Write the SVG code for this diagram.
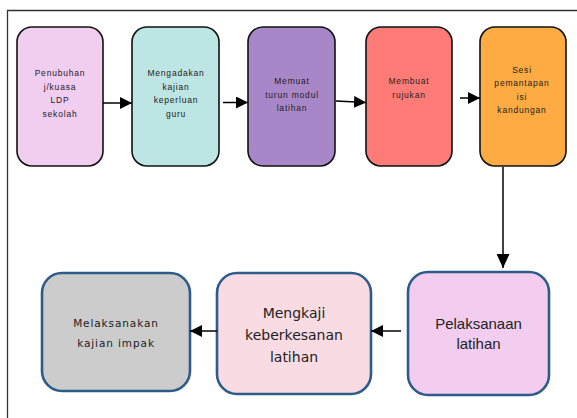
<svg xmlns="http://www.w3.org/2000/svg" width="577" height="418" viewBox="0 0 577 418">
  <defs>
    <style>
      .top { stroke: #111; stroke-width: 1.6; }
      .bot { stroke: #2e5c8a; stroke-width: 2.6; }
      .t1 { font-family: "Liberation Sans", Arial, sans-serif; font-size: 8.5px; letter-spacing: 0.8px; fill: #222; text-anchor: middle; }
      .t6 { font-family: "Liberation Sans", Arial, sans-serif; font-size: 15px; fill: #222; text-anchor: middle; }
      .t7 { font-family: "DejaVu Sans", sans-serif; font-size: 14px; fill: #222; text-anchor: middle; }
      .t8 { font-family: "DejaVu Sans", sans-serif; font-size: 10.5px; letter-spacing: 0.9px; fill: #222; text-anchor: middle; }
      .conn { stroke: #000; stroke-width: 1.5; fill: none; }
    </style>
    <marker id="arr" viewBox="0 0 12 12" refX="12" refY="6" markerWidth="12" markerHeight="12" markerUnits="userSpaceOnUse" orient="auto">
      <path d="M0,0 L12,6 L0,12 Z" fill="#000"/>
    </marker>
    <marker id="arrL" viewBox="0 0 14 13" refX="14" refY="6.5" markerWidth="14" markerHeight="13" markerUnits="userSpaceOnUse" orient="auto">
      <path d="M0,0 L14,6.5 L0,13 Z" fill="#000"/>
    </marker>
  </defs>

  <rect width="577" height="418" fill="#fff"/>

  <!-- page frame -->
  <path d="M7.5,418 V10.5 H577" fill="none" stroke="#333" stroke-width="1.3"/>

  <g id="n1">
    <rect class="top" x="17" y="27" width="86" height="139" rx="15" fill="#f1cdf0"/>
    <text class="t1" x="60" y="76">Penubuhan</text>
    <text class="t1" x="60" y="90">j/kuasa</text>
    <text class="t1" x="60" y="103">LDP</text>
    <text class="t1" x="60" y="117">sekolah</text>
  </g>
  <g id="n2">
    <rect class="top" x="132" y="27" width="87" height="139" rx="15" fill="#bce5e3"/>
    <text class="t1" x="176" y="76">Mengadakan</text>
    <text class="t1" x="176" y="90">kajian</text>
    <text class="t1" x="176" y="103">keperluan</text>
    <text class="t1" x="176" y="117">guru</text>
  </g>
  <g id="n3">
    <rect class="top" x="248" y="27" width="87" height="139" rx="15" fill="#a887c8"/>
    <text class="t1" x="292" y="84">Memuat</text>
    <text class="t1" x="292" y="98">turun modul</text>
    <text class="t1" x="292" y="111">latihan</text>
  </g>
  <g id="n4">
    <rect class="top" x="366" y="27" width="86" height="139" rx="15" fill="#fe7b77"/>
    <text class="t1" x="409" y="84">Membuat</text>
    <text class="t1" x="409" y="98">rujukan</text>
  </g>
  <g id="n5">
    <rect class="top" x="480" y="27" width="86" height="139" rx="15" fill="#fdab42"/>
    <text class="t1" x="522" y="73">Sesi</text>
    <text class="t1" x="522" y="86">pemantapan</text>
    <text class="t1" x="522" y="100">isi</text>
    <text class="t1" x="522" y="113">kandungan</text>
  </g>

  <g id="n6">
    <rect class="bot" x="408" y="272" width="141" height="123" rx="20" fill="#f2cdf0"/>
    <text class="t6" x="478.5" y="329">Pelaksanaan</text>
    <text class="t6" x="478.5" y="349">latihan</text>
  </g>
  <g id="n7">
    <rect class="bot" x="217" y="273" width="154" height="121" rx="20" fill="#f8dbe3"/>
    <text class="t7" x="294" y="318">Mengkaji</text>
    <text class="t7" x="294" y="340">keberkesanan</text>
    <text class="t7" x="294" y="362">latihan</text>
  </g>
  <g id="n8">
    <rect class="bot" x="42" y="273" width="148" height="118" rx="20" fill="#cccccc"/>
    <text class="t8" x="116" y="327">Melaksanakan</text>
    <text class="t8" x="116" y="347">kajian impak</text>
  </g>

  <g id="connectors">
    <line class="conn" x1="103" y1="103" x2="132" y2="103" marker-end="url(#arr)"/>
    <line class="conn" x1="223" y1="102.5" x2="248" y2="102.5" marker-end="url(#arr)"/>
    <line class="conn" x1="336" y1="101" x2="366" y2="102.5" marker-end="url(#arr)"/>
    <line class="conn" x1="460" y1="98" x2="480" y2="98" marker-end="url(#arr)"/>
    <line class="conn" x1="503" y1="167" x2="503" y2="268" marker-end="url(#arrL)"/>
    <line class="conn" x1="401" y1="331" x2="371" y2="331" marker-end="url(#arr)"/>
    <line class="conn" x1="217" y1="331" x2="190" y2="331" marker-end="url(#arr)"/>
  </g>
</svg>
